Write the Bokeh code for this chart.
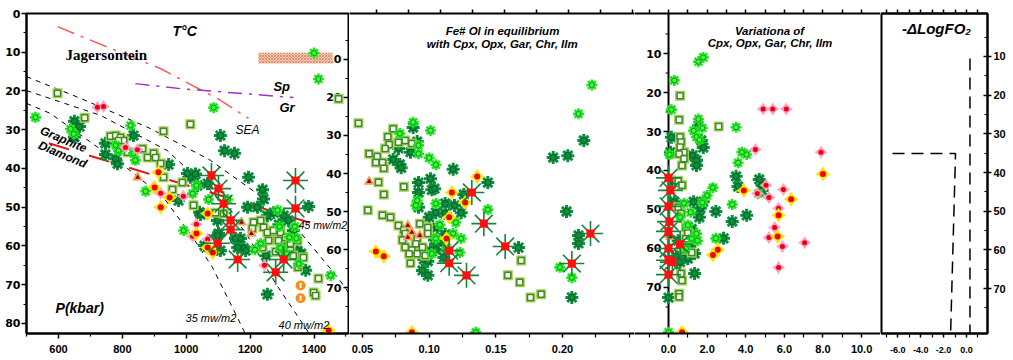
import math
from bokeh.plotting import figure
from bokeh.layouts import row
from bokeh.models import Range1d, LinearAxis, FixedTicker, PrintfTickFormatter
from bokeh.core.properties import value
from bokeh.embed import file_html
from bokeh.resources import INLINE

# ---------------- DATA ----------------
# Panel 1: (T degC, P kbar)
P1_DG = [(650,27.8),(666,29.2),(650,31.9),(835,31.5),(747,33.5),(747,36.4),(779,37.5),(785,38.8),(945,39.0),
         (1107,31.5),(1120,35.4),(1151,36.1),(1195,42.3),(1013,42.3),(1029,41.4),(1004,41.3),(1067,43.9),(1035,44.4),
         (1042,51.3),(1098,53.4),(1101,56.8),(1057,59.9),(1170,58.1),(1180,60.6),(1239,45.5),(1242,47.9),(1192,50.0),
         (1223,50.0),(1254,52.2),(1383,49.8),(1305,52.2),(1320,53.4),(1154,58.1),(1161,60.4),(1186,61.2),(1264,58.1),
         (1280,56.8),(1305,58.1),(1320,59.4),(1348,61.2),(1374,66.3),(1254,72.5),(1045,51.9),(1107,61.2),(1274,51.4),
         (1290,54.5),(1335,56.0),(1360,62.0),(1300,61.0),(1250,62.5),(976,48.3),(1098,57.3)]
P1_LG = [(528,26.8),(638,29.8),(648,31.1),(826,28.9),(779,34.0),(788,35.4),(835,36.1),(841,37.9),(1086,24.3),
         (1414,16.9),(1400,10.2),(873,45.9),(992,56.0),(1020,46.5),(1452,67.6),(1352,64.6),(1323,57.8),(1233,59.4),
         (1286,50.8),(1292,55.0),(1295,60.5),(1345,58.0),(1315,62.0),(1340,55.0),(1215,61.0),(1032,44.4),(1070,48.0),
         (1130,48.0)]
P1_SQ = [(597,20.6),(682,26.9),(763,31.7),(779,31.5),(794,32.0),(804,32.8),(788,32.8),(816,35.8),(863,34.9),
         (879,37.2),(898,36.1),(904,37.2),(920,38.7),(929,42.3),(929,30.4),(1013,28.6),(1477,22.0),(957,45.4),
         (988,43.6),(1023,49.5),(1092,51.4),(1117,51.6),(1211,53.9),(1233,53.4),(1242,55.2),(1207,55.5),(1254,56.5),
         (1273,56.0),(1295,56.5),(1289,58.6),(1311,57.8),(1326,59.4),(1326,61.2),(1348,58.6),(1367,63.0),(1239,60.4),
         (1258,58.6),(1414,68.4),(1399,72.0),(1405,72.8),(1350,65.5),(1335,62.5),(1280,61.5)]
P1_YS = [(913,41.0),(901,44.9),(948,47.5),(920,50.0),(1032,56.8),(1067,51.6),(1067,60.4),(1083,61.7),(1446,81.8)]
P1_PS = [(722,24.2),(741,24.0),(810,34.6),(847,35.2),(897,44.9),(920,46.4),(991,47.2),(1032,54.4),(1020,57.5),
         (1067,58.3),(1245,65.0)]
P1_BX = [(1079,41.8),(1342,43.1),(1101,45.2),(1117,49.1),(1139,53.4),(1139,55.8),(1098,59.3),(1161,63.5),
         (1280,66.8),(1305,63.5),(1342,50.3)]
P1_OT = [(848,42.3),(1173,53.9),(1204,56.8)]
P1_OC = [(1358,70.2),(1358,73.5)]

# Panel 1 curves (T, P)
GRAPHITE_DIAMOND = [(570,33.5),(1395,54.2)]
SEA_LINE = [(597,3.4),(763,9.0),(919,14.2),(1107,22.4),(1195,27.1)]
SP_GR_LINE = [(841,18.1),(982,19.4),(1336,21.7)]
GEO_45 = [(500,16.3),(669,21.9),(888,29.7),(1076,37.9),(1217,46.2),(1342,55.0),(1474,68.1),(1508,72.0)]
GEO_40 = [(500,19.9),(732,26.3),(941,35.4),(1076,45.7),(1186,56.5),(1280,69.7),(1364,80.0),(1389,83.1)]
GEO_35 = [(500,23.2),(575,25.8),(816,40.0),(929,47.5),(1023,58.1),(1082,65.5),(1183,82.3)]
JAGERS_BOX = (1226, 1458, 10.1, 12.9)

# Panel 2: (Fe# Ol, P)
P2_SQ = [(0.047,26.8),(0.073,28.2),(0.069,30.3),(0.070,32.4),(0.077,31.8),(0.082,31.3),(0.087,32.1),(0.067,33.4),
         (0.055,34.8),(0.061,35.5),(0.060,37.1),(0.065,37.1),(0.066,38.6),(0.062,42.3),(0.066,45.5),(0.054,49.7),
         (0.065,51.0),(0.071,51.5),(0.081,43.5),(0.077,53.7),(0.081,54.8),(0.082,55.8),(0.093,53.2),(0.099,54.2),
         (0.099,55.8),(0.091,57.1),(0.082,59.4),(0.087,60.1),(0.095,59.4),(0.097,61.6),(0.091,61.1),(0.086,63.6),
         (0.085,61.1),(0.169,62.9),(0.159,66.8),(0.168,68.6),(0.176,72.6),(0.184,71.8),(0.080,57.5),(0.090,58.5)]
P2_DG = [(0.088,27.9),(0.077,33.4),(0.086,34.4),(0.073,36.3),(0.078,37.6),(0.079,38.5),(0.091,31.6),(0.118,38.9),
         (0.193,35.8),(0.204,35.3),(0.216,31.3),(0.092,42.4),(0.101,41.4),(0.102,44.3),(0.104,44.0),(0.092,45.0),
         (0.092,48.9),(0.112,47.9),(0.119,48.4),(0.124,50.3),(0.105,50.3),(0.100,51.5),(0.106,54.2),(0.112,50.5),
         (0.144,42.4),(0.126,45.5),(0.101,60.3),(0.105,60.0),(0.111,62.1),(0.096,62.6),(0.099,63.1),(0.099,66.8),
         (0.167,59.5),(0.203,50.0),(0.212,58.4),(0.212,56.3),(0.207,72.6),(0.110,58.1),(0.104,57.5),(0.112,56.0),
         (0.095,65.5)]
P2_LG = [(0.088,26.5),(0.101,28.7),(0.078,29.5),(0.092,32.6),(0.092,34.8),(0.100,35.9),(0.105,37.7),(0.212,24.3),
         (0.222,16.7),(0.091,47.1),(0.090,48.4),(0.105,47.9),(0.120,52.9),(0.105,57.1),(0.118,55.8),(0.124,57.1),
         (0.123,60.8),(0.102,61.1),(0.144,49.5),(0.198,64.7),(0.207,67.4),(0.135,81.8),(0.113,59.5),(0.108,53.5)]
P2_YS = [(0.136,40.8),(0.117,45.0),(0.127,47.6),(0.115,51.5),(0.113,57.1),(0.060,60.5),(0.066,61.8),(0.087,81.8)]
P2_BX = [(0.132,45.0),(0.141,53.2),(0.115,60.3),(0.115,63.6),(0.128,66.8),(0.157,59.2),(0.207,63.7),(0.221,55.8)]
P2_OT = [(0.055,42.1),(0.084,53.7),(0.087,55.5),(0.093,56.3),(0.084,56.8)]

# Panel 3: (variation, P)
P3_LG = [(1.55,12.1),(1.8,11.0),(0.3,16.9),(0.15,24.4),(3.5,28.9),(1.55,26.8),(1.75,29.1),(1.3,29.8),(1.45,31.4),
         (1.6,32.1),(0.05,35.9),(3.8,35.3),(4.05,35.9),(3.6,38.0),(0.8,48.4),(1.15,50.7),(1.75,48.2),(2.0,46.4),
         (2.3,44.4),(3.3,48.7),(2.45,57.4),(1.45,56.2),(0.0,81.5),(4.65,45.9),(1.0,54.0),(1.2,57.5),(1.5,58.0),
         (0.9,60.0),(0.6,52.0)]
P3_DG = [(0.15,31.5),(0.1,35.3),(1.25,36.1),(1.45,37.4),(1.45,38.7),(1.7,32.3),(1.8,34.1),(1.55,28.5),(3.5,41.5),
         (4.7,42.3),(3.6,44.1),(4.85,43.8),(4.85,45.1),(1.8,48.0),(1.3,48.0),(1.65,49.7),(2.45,50.5),(1.6,52.0),
         (3.3,53.1),(4.05,51.5),(2.85,57.4),(1.35,61.3),(1.35,66.4),(0.0,72.6),(1.0,62.6),(0.3,43.0),(0.5,58.0),
         (0.8,61.0),(1.1,59.5),(0.4,62.0),(0.6,63.5),(1.2,55.0),(0.3,48.0)]
P3_SQ = [(0.6,20.8),(0.55,27.0),(2.6,28.7),(0.6,31.4),(0.65,32.7),(0.6,34.0),(0.8,35.3),(0.55,35.8),(0.8,37.0),
         (0.7,38.7),(0.5,42.6),(0.7,43.8),(0.5,49.4),(0.65,51.0),(0.9,54.6),(1.0,56.0),(0.8,60.3),(0.65,66.4),
         (0.7,68.2),(0.55,71.6),(0.55,72.4),(1.2,61.0),(0.9,57.5)]
P3_PS = [(4.9,24.2),(5.4,24.2),(6.1,24.2),(4.5,34.6),(7.9,35.3),(5.05,43.8),(5.95,44.9),(4.6,45.9),(5.2,46.9),
         (5.7,49.7),(5.5,54.6),(5.2,57.2),(5.9,59.5),(7.05,58.5),(5.7,64.9)]
P3_YS = [(8.0,40.9),(3.9,45.1),(6.35,47.4),(5.7,51.5),(5.65,56.9),(2.55,60.3),(2.3,61.7),(0.7,81.5)]
P3_BX = [(0.0,41.9),(0.1,45.1),(0.0,49.2),(0.05,53.1),(0.0,55.6),(0.6,58.9),(0.0,60.0),(0.0,63.0),(0.2,63.5),
         (0.0,66.7)]
P3_OT = [(-0.05,56.5),(0.1,57.0)]

# Panel 4: -dLogFO2 profiles (x, P)
FO2_A = [(0.3,10.5),(0.3,81.6)]
FO2_B = [(-6.46,35.1),(-0.96,35.1),(-1.39,81.6)]

# ticks
P_TICKS = [0,10,20,30,40,50,60,70,80]
P_MINOR = [5,15,25,35,45,55,65,75]
P_INNER = [10,20,30,40,50,60,70]
T_TICKS = [600,800,1000,1200,1400]
T_MINOR = [500,700,900,1100,1300,1500]
F_TICKS = [0.05,0.10,0.15,0.20]
F_MINOR = [0.075,0.125,0.175,0.225,0.25]
F_TOP = [0.0605,0.0845,0.1085,0.1325,0.1565,0.1805,0.2045,0.2285,0.2525]
V_TICKS = [0,2,4,6,8,10]
V_MINOR = [-1,1,3,5,7,9]
V_TOP = [-1,0,1,2,3,4,5,6,7,8,9,10]
O_TICKS = [-6,-4,-2,0]
O_MINOR = [-7,-5,-3,-1,1]
O_TOP = [-7,-6,-5,-4,-3,-2,-1,0,1]

# axis limits
P1_T_RANGE = (500, 1508)
P1_P_RANGE = (82.6, 0.0)
P2_F_RANGE = (0.04025, 0.2540)
P2_P_RANGE = (82.1, -2.1)
P3_V_RANGE = (-1.762, 10.98)
P3_P_RANGE = (81.8, -0.26)
P4_X_RANGE = (-7.42, 1.83)
P4_P_RANGE = (81.6, -1.1)

AX_FONT = "Liberation Sans"
Y_FONT = "DejaVu Sans"
H = 360


def make_fig(width, xr, yr, left=0, right=0, yloc=None):
    p = figure(width=width, height=H, x_range=Range1d(*xr), y_range=Range1d(*yr),
               min_border_left=left, min_border_right=right, min_border_top=13, min_border_bottom=27,
               toolbar_location=None, output_backend="svg", y_axis_location=yloc)
    p.xgrid.visible = False
    p.ygrid.visible = False
    p.outline_line_color = None
    p.border_fill_color = "white"
    p.background_fill_color = "white"
    return p


def style(ax, major, minor=(), size="11px", font=AX_FONT, fmt=None, out=4, mout=3, tin=0, min_=0,
          standoff=2):
    ax.ticker = FixedTicker(ticks=list(major), minor_ticks=list(minor))
    if fmt:
        ax.formatter = PrintfTickFormatter(format=fmt)
    ax.axis_line_width = 2
    ax.axis_line_color = "black"
    ax.major_tick_line_width = 1.5
    ax.minor_tick_line_width = 1.2
    ax.major_tick_line_color = "black"
    ax.minor_tick_line_color = "black"
    ax.major_tick_out = out
    ax.major_tick_in = tin
    ax.minor_tick_out = mout
    ax.minor_tick_in = min_
    ax.major_label_text_font = font
    ax.major_label_text_font_style = "bold"
    ax.major_label_text_font_size = size
    ax.major_label_text_color = "black"
    ax.major_label_standoff = standoff


def top_ticks(p, ticks):
    ax = LinearAxis()
    p.add_layout(ax, "above")
    ax.ticker = FixedTicker(ticks=[], minor_ticks=list(ticks))
    ax.axis_line_width = 2
    ax.axis_line_color = "black"
    ax.minor_tick_line_width = 1.5
    ax.minor_tick_line_color = "black"
    ax.minor_tick_out = 4
    ax.minor_tick_in = 0
    ax.major_label_standoff = 0


def xy(pairs):
    return [a for a, _ in pairs], [b for _, b in pairs]


def markers(p, pairs, kind, xr="default", yr="default"):
    if not pairs:
        return
    x, y = xy(pairs)
    kw = dict(x_range_name=xr, y_range_name=yr)
    if kind == "dg":
        p.scatter(x, y, marker="asterisk", size=13, line_color="#0C8F3C", line_width=3, **kw)
        p.scatter(x, y, marker="circle", size=6, fill_color="#0C8F3C", line_color="#055A24", line_width=1, **kw)
    elif kind == "lg":
        p.scatter(x, y, marker="asterisk", size=11, line_color="#22E622", line_width=2.6, **kw)
        p.scatter(x, y, marker="circle", size=5, fill_color="#3CFF3C", line_color="#119911", line_width=1, **kw)
    elif kind == "sq":
        p.scatter(x, y, marker="square", size=10, fill_color="#A3CF5C", line_color=None, **kw)
        p.scatter(x, y, marker="square", size=6, fill_color="white", line_color="#3E8A1E", line_width=1.5, **kw)
    elif kind == "ys":
        for a in (0, math.pi / 2):
            p.scatter(x, y, marker="diamond", size=15, angle=a, fill_color="#FFE400", line_color=None, **kw)
        p.scatter(x, y, marker="circle", size=6, fill_color="#F00000", line_color=None, **kw)
    elif kind == "ps":
        for a in (0, math.pi / 2):
            p.scatter(x, y, marker="diamond", size=13, angle=a, fill_color="#FF9EC6", line_color=None, **kw)
        p.scatter(x, y, marker="circle", size=5, fill_color="#F00000", line_color=None, **kw)
    elif kind == "ot":
        p.scatter(x, y, marker="triangle", size=11, fill_color="#F5A05A", line_color=None, **kw)
        p.scatter(x, y, marker="triangle", size=5, fill_color="#9A0000", line_color=None, **kw)
    elif kind == "oc":
        p.scatter(x, y, marker="circle", size=10, fill_color="#FF8A1E", line_color=None, **kw)
        p.scatter(x, y, marker="dash", size=5, angle=math.pi / 2, line_color="white", line_width=2, **kw)
    elif kind == "bx":
        p.scatter(x, y, marker="asterisk", size=25, line_color="#13863A", line_width=1.6, **kw)
        for a in (math.pi / 4, -math.pi / 4):
            p.scatter(x, y, marker="diamond", size=13, angle=a, fill_color="#FF1010", line_color=None, **kw)


def txt(p, x, y, s, size, fstyle="bold italic", font=AX_FONT, align="left", baseline="middle",
        angle=0.0, xr="default", yr="default", x_offset=0):
    p.text(x=[x], y=[y], text=[s], text_font=value(font), text_font_size=size, text_font_style=fstyle,
           text_align=align, text_baseline=baseline, angle=angle, text_color="black",
           x_range_name=xr, y_range_name=yr, x_offset=x_offset)


def inner_axis(p, xpos, labels_font_size="11px", yr="default"):
    n = len(P_INNER)
    p.ray(x=[xpos] * n, y=P_INNER, length=5, angle=math.pi, length_units="screen",
          line_color="black", line_width=1.5, y_range_name=yr)
    m = len(P_MINOR)
    p.ray(x=[xpos] * m, y=P_MINOR, length=3, angle=math.pi, length_units="screen",
          line_color="black", line_width=1.2, y_range_name=yr)
    p.text(x=[xpos] * n, y=P_INNER, text=[str(v) for v in P_INNER], text_font=value(Y_FONT),
           text_font_size=labels_font_size, text_font_style="bold", text_align="right",
           text_baseline="middle", x_offset=-7, text_color="black", y_range_name=yr)


# ---------------- PANEL 1 ----------------
p1 = make_fig(349, P1_T_RANGE, P1_P_RANGE, left=26, right=1, yloc="left")
p1.outline_line_color = "black"
p1.outline_line_width = 2
p1.extra_y_ranges = {"p2": Range1d(*P2_P_RANGE)}
style(p1.xaxis[0], T_TICKS, T_MINOR, out=5, mout=3, standoff=6)
style(p1.yaxis[0], P_TICKS, P_MINOR, size="11px", font=Y_FONT, out=5, mout=3, standoff=1)

# panel 2's y axis labels sit inside panel 1
inner_axis(p1, P1_T_RANGE[1], yr="p2")

# Jagersontein box
p1.quad(left=[JAGERS_BOX[0]], right=[JAGERS_BOX[1]], top=[JAGERS_BOX[2]], bottom=[JAGERS_BOX[3]],
        fill_color="#F8D2C0", line_color=None, hatch_pattern="diagonal_cross", hatch_color="#E58E6C",
        hatch_scale=3, hatch_weight=1)

for g in (GEO_45, GEO_40, GEO_35):
    gx, gy = xy(g)
    p1.line(gx, gy, line_color="black", line_width=1, line_dash="5 5")
gx, gy = xy(SEA_LINE)
p1.line(gx, gy, line_color="#FF5A5A", line_width=1.5, line_dash="18 7 3 7")
gx, gy = xy(SP_GR_LINE)
p1.line(gx, gy, line_color="#A030D0", line_width=1.5, line_dash="14 7 3 7")
gx, gy = xy(GRAPHITE_DIAMOND)
p1.line(gx, gy, line_color="#EE1111", line_width=2, line_dash="21 21")

for data, kind in ((P1_DG, "dg"), (P1_SQ, "sq"), (P1_LG, "lg"), (P1_PS, "ps"), (P1_YS, "ys"),
                   (P1_OT, "ot"), (P1_OC, "oc"), (P1_BX, "bx")):
    markers(p1, data, kind)

txt(p1, 957, 4.4, "T°C", "14px")
txt(p1, 622, 10.6, "Jagersontein", "15px", fstyle="bold", font="Liberation Serif")
txt(p1, 1273, 18.8, "Sp", "13px")
txt(p1, 1292, 24.3, "Gr", "13px")
txt(p1, 1154, 30.2, "SEA", "12px", fstyle="italic")
txt(p1, 616, 32.5, "Graphite", "12px", align="center", angle=-0.40)
txt(p1, 613, 36.4, "Diamond", "12px", align="center", angle=-0.40)
txt(p1, 591, 76.1, "P(kbar)", "14px")
txt(p1, 998, 78.7, "35 mw/m2", "11px", fstyle="italic")
txt(p1, 1289, 80.3, "40 mw/m2", "11px", fstyle="italic")
txt(p1, 1352, 54.7, "45 mw/m2", "10.5px", fstyle="italic")

# ---------------- PANEL 2 ----------------
p2 = make_fig(285, P2_F_RANGE, P2_P_RANGE)
style(p2.xaxis[0], F_TICKS, F_MINOR, fmt="%.2f", out=4, mout=4, standoff=7)
top_ticks(p2, F_TOP)

for data, kind in ((P2_DG, "dg"), (P2_SQ, "sq"), (P2_LG, "lg"), (P2_YS, "ys"), (P2_OT, "ot"), (P2_BX, "bx")):
    markers(p2, data, kind)

txt(p2, 0.155, 2.4, "Fe# Ol in equilibrium", "11.5px", align="center")
txt(p2, 0.156, 5.8, "with Cpx, Opx, Gar,  Chr, Ilm", "11.5px", align="center")

# ---------------- PANEL 3 ----------------
p3 = make_fig(246, P3_V_RANGE, P3_P_RANGE)
style(p3.xaxis[0], V_TICKS, V_MINOR, fmt="%.1f", out=4, mout=4, standoff=7)
top_ticks(p3, V_TOP)
p3.line([0, 0], [P3_P_RANGE[0], P3_P_RANGE[1]], line_color="black", line_width=2)
inner_axis(p3, 0)

for data, kind in ((P3_DG, "dg"), (P3_SQ, "sq"), (P3_LG, "lg"), (P3_PS, "ps"), (P3_YS, "ys"),
                   (P3_OT, "ot"), (P3_BX, "bx")):
    markers(p3, data, kind)

txt(p3, 5.23, 4.1, "Variationa of", "11.5px", align="center")
txt(p3, 5.34, 7.4, "Cpx, Opx, Gar,  Chr, Ilm", "11.5px", align="center")

# ---------------- PANEL 4 ----------------
p4 = make_fig(132, P4_X_RANGE, P4_P_RANGE, left=1, right=25, yloc="right")
p4.outline_line_color = "black"
p4.outline_line_width = 2
style(p4.xaxis[0], O_TICKS, O_MINOR, size="9px", fmt="%.1f", out=4, mout=4, standoff=9)
style(p4.yaxis[0], P_INNER, P_MINOR, size="11px", out=4, tin=4, mout=0, min_=3, standoff=2)
top_ticks(p4, O_TOP)

for line in (FO2_A, FO2_B):
    lx, ly = xy(line)
    p4.line(lx, ly, line_color="black", line_width=1.5, line_dash="12 7")

txt(p4, -2.62, 2.8, "-ΔLogFO₂", "15px", align="center")

layout = row(p1, p2, p3, p4, spacing=0)
open("out.html", "w").write(file_html(layout, INLINE))
